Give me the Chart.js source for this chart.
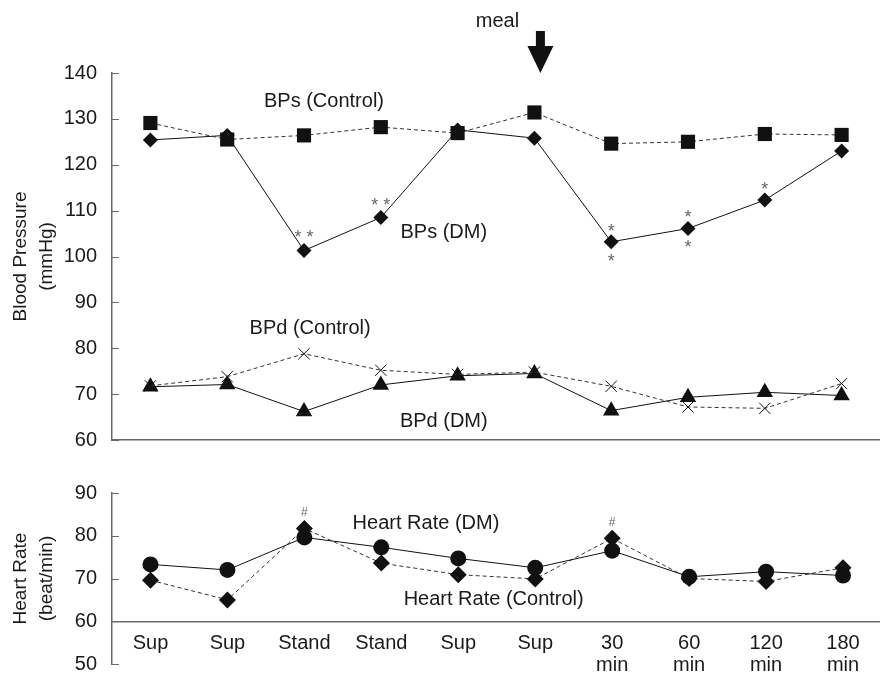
<!DOCTYPE html>
<html>
<head>
<meta charset="utf-8">
<script src="https://cdn.jsdelivr.net/npm/chart.js@4"></script>
<style>
  html, body { margin: 0; padding: 0; background: #fff; overflow: hidden; }
  #wrap { position: relative; width: 880px; height: 674px; overflow: hidden; }
  canvas { position: absolute; left: 0; }
  #bp { top: 0; }
  #hr { top: 450px; }
</style>
</head>
<body>
<div id="wrap">
  <canvas id="bp"></canvas>
  <canvas id="hr"></canvas>
</div>
<script>
// Categories (x axis)
const categories = ["Sup", "Sup", "Stand", "Stand", "Sup", "Sup", ["30", "min"], ["60", "min"], ["120", "min"], ["180", "min"]];

// Blood pressure (mmHg)
const bpsControl = [129.1, 125.5, 126.4, 128.2, 126.9, 131.4, 124.6, 125.0, 126.7, 126.5];
const bpsDM = [125.4, 126.4, 101.3, 108.5, 127.6, 125.8, 103.2, 106.1, 112.3, 123.0];
const bpdControl = [71.8, 73.8, 78.8, 75.2, 74.3, 74.8, 71.7, 67.2, 66.9, 72.3];
const bpdDM = [71.6, 72.1, 66.2, 72.0, 74.0, 74.5, 66.4, 69.3, 70.4, 69.7];

// Heart rate (beat/min)
const hrDM = [73.3, 72.0, 79.6, 77.3, 74.7, 72.5, 76.5, 70.4, 71.6, 70.7];
const hrControl = [69.6, 65.0, 81.7, 73.6, 70.9, 69.9, 79.4, 70.0, 69.3, 72.5];

// Axis ticks
const bpTicks = { min: 60, max: 140, step: 10 };
const hrTicks = { min: 50, max: 90, step: 10 };

const FONT = "'Liberation Sans', Arial, Helvetica, sans-serif";
const AXIS_COLOR = "#6a6a6a";
const TEXT_COLOR = "#1a1a1a";
Chart.defaults.font.family = FONT;
Chart.defaults.color = TEXT_COLOR;

// canvases are a bit wider than the page so the x axis runs off the right edge
function sizeCanvas(id, w, h) {
  const c = document.getElementById(id);
  c.style.width = w + "px";
  c.style.height = h + "px";
  c.width = w;
  c.height = h;
  return c;
}

// small tick marks drawn inward from the y axis, plus text notes
function notesPlugin(notes, marks) {
  return {
    id: "notes",
    afterDraw(chart) {
      const { ctx, scales: { x, y }, chartArea } = chart;
      ctx.save();
      ctx.strokeStyle = AXIS_COLOR;
      ctx.lineWidth = 1;
      y.ticks.forEach((t) => {
        const py = Math.round(y.getPixelForValue(t.value)) + 0.5;
        ctx.beginPath();
        ctx.moveTo(chartArea.left, py);
        ctx.lineTo(chartArea.left + 7, py);
        ctx.stroke();
      });
      // text labels placed in data space
      ctx.fillStyle = TEXT_COLOR;
      ctx.textAlign = "center";
      ctx.textBaseline = "middle";
      ctx.font = "20px " + FONT;
      notes.forEach((n) => {
        ctx.fillText(n.text, x.getPixelForValue(n.i), y.getPixelForValue(n.v));
      });
      // significance marks next to points
      ctx.fillStyle = "#666";
      marks.forEach((m) => {
        ctx.font = m.size + "px " + FONT;
        const px = x.getPixelForValue(m.i);
        const py = y.getPixelForValue(m.v) + m.dy;
        ctx.fillText(m.text, px, py);
      });
      if (chart.canvas.id === "bp") {
        // meal arrow over the 6th time point
        const ax = x.getPixelForValue(5) + 6;
        ctx.fillStyle = TEXT_COLOR;
        ctx.font = "20px " + FONT;
        ctx.textBaseline = "alphabetic";
        ctx.fillText("meal", ax - 43, 27);
        ctx.fillStyle = "#111";
        ctx.beginPath();
        ctx.moveTo(ax - 4.5, 31);
        ctx.lineTo(ax + 4.5, 31);
        ctx.lineTo(ax + 4.5, 46);
        ctx.lineTo(ax + 13, 46);
        ctx.lineTo(ax, 73);
        ctx.lineTo(ax - 13, 46);
        ctx.lineTo(ax - 4.5, 46);
        ctx.closePath();
        ctx.fill();
      }
      ctx.restore();
    },
  };
}

function lineSet(label, data, style, radius, dashed) {
  return {
    label: label,
    data: data,
    borderColor: dashed ? "#333" : "#111",
    borderWidth: 1,
    borderDash: dashed ? [4, 3] : [],
    pointStyle: style,
    pointRadius: radius,
    pointBackgroundColor: "#111",
    pointBorderColor: "#111",
    pointBorderWidth: style === "crossRot" ? 1 : 0,
    tension: 0,
  };
}

function yScale(t, title, width) {
  return {
    min: t.min,
    max: t.max,
    ticks: { stepSize: t.step, padding: 0, font: { size: 20, lineHeight: 1 }, color: TEXT_COLOR },
    // invisible outer ticks only used to push the labels away from the axis
    grid: { display: true, drawOnChartArea: false, drawTicks: true, tickLength: 15, color: "rgba(0,0,0,0)" },
    border: { display: true, color: AXIS_COLOR, width: 1.5 },
    title: {
      display: true,
      text: title,
      font: { size: 19, lineHeight: 1.4 },
      color: TEXT_COLOR,
      padding: { top: 7, bottom: 0 },
    },
    afterFit: (s) => { s.width = width; },
  };
}

// ---- Blood pressure panel ----
sizeCanvas("bp", 890, 450);
new Chart(document.getElementById("bp"), {
  type: "line",
  data: {
    labels: categories,
    datasets: [
      lineSet("BPs (Control)", bpsControl, "rect", 10, true),
      lineSet("BPs (DM)", bpsDM, "rectRot", 7.5, false),
      lineSet("BPd (Control)", bpdControl, "crossRot", 8, true),
      lineSet("BPd (DM)", bpdDM, "triangle", 9.5, false),
    ],
  },
  options: {
    responsive: false,
    animation: false,
    layout: { padding: { left: 0, top: 73, right: 3, bottom: 10 } },
    plugins: { legend: { display: false }, tooltip: { enabled: false } },
    scales: {
      x: {
        offset: true,
        ticks: { display: false },
        grid: { display: false },
        border: { display: true, color: AXIS_COLOR, width: 1.5 },
        afterFit: (s) => { s.height = 0; },
      },
      y: yScale(bpTicks, ["Blood Pressure", "(mmHg)"], 112),
    },
  },
  plugins: [
    notesPlugin(
      [
        { text: "BPs (Control)", i: 2.26, v: 133.7 },
        { text: "BPs (DM)", i: 3.82, v: 105.3 },
        { text: "BPd (Control)", i: 2.08, v: 84.4 },
        { text: "BPd (DM)", i: 3.82, v: 64.1 },
      ],
      [
        { text: "* *", i: 2, v: bpsDM[2], dy: -13, size: 18 },
        { text: "* *", i: 3, v: bpsDM[3], dy: -11, size: 18 },
        { text: "*", i: 6, v: bpsDM[6], dy: -10, size: 18 },
        { text: "*", i: 6, v: bpsDM[6], dy: 20, size: 18 },
        { text: "*", i: 7, v: bpsDM[7], dy: -10, size: 18 },
        { text: "*", i: 7, v: bpsDM[7], dy: 20, size: 18 },
        { text: "*", i: 8, v: bpsDM[8], dy: -10, size: 18 },
      ]
    ),
  ],
});

// ---- Heart rate panel ----
sizeCanvas("hr", 890, 224);
new Chart(document.getElementById("hr"), {
  type: "line",
  data: {
    labels: categories,
    datasets: [
      lineSet("Heart Rate (DM)", hrDM, "circle", 8, false),
      lineSet("Heart Rate (Control)", hrControl, "rectRot", 8.5, true),
    ],
  },
  options: {
    responsive: false,
    animation: false,
    layout: { padding: { left: 0, top: 43, right: 3, bottom: 10 } },
    plugins: { legend: { display: false }, tooltip: { enabled: false } },
    scales: {
      x: {
        position: { y: 60 },
        offset: true,
        ticks: { padding: 3, font: { size: 20, lineHeight: 1.1 }, color: TEXT_COLOR, maxRotation: 0, autoSkip: false },
        grid: { display: false },
        border: { display: true, color: AXIS_COLOR, width: 1.5 },
        afterFit: (s) => { s.height = 0; },
      },
      y: yScale(hrTicks, ["Heart Rate", "(beat/min)"], 112),
    },
  },
  plugins: [
    notesPlugin(
      [
        { text: "Heart Rate (DM)", i: 3.58, v: 82.9 },
        { text: "Heart Rate (Control)", i: 4.46, v: 65.0 },
      ],
      [
        { text: "#", i: 2, v: hrControl[2], dy: -16, size: 12 },
        { text: "#", i: 6, v: hrControl[6], dy: -16, size: 12 },
      ]
    ),
  ],
});
</script>
</body>
</html>
